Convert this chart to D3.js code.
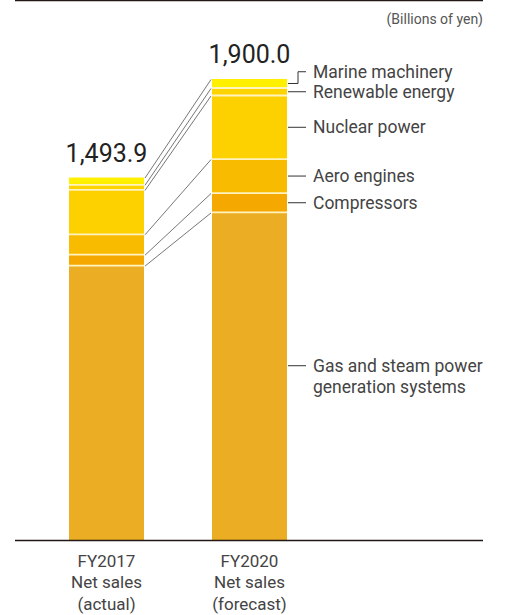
<!DOCTYPE html>
<html>
<head>
<meta charset="utf-8">
<script src="https://cdn.jsdelivr.net/npm/d3@7"></script>
<style>
  body { margin: 0; background: #fff; }
  svg { display: block; font-family: Roboto, "DejaVu Sans", sans-serif; }
</style>
</head>
<body>
<script>
// data (billions of yen), bottom segment first
const segments = ["Gas and steam power generation systems", "Compressors", "Aero engines",
                  "Nuclear power", "Renewable energy", "Marine machinery"];
const segmentLabels = [["Gas and steam power", "generation systems"], ["Compressors"], ["Aero engines"],
                       ["Nuclear power"], ["Renewable energy"], ["Marine machinery"]];
const fy2017 = [1130.9, 45, 84, 183, 21, 30];
const fy2020 = [1350, 80, 140, 262, 31, 37];
const totals = ["1,493.9", "1,900.0"];
const categories = [["FY2017", "Net sales", "(actual)"], ["FY2020", "Net sales", "(forecast)"]];
const colors = ["#ebad24", "#f5a800", "#f8bb00", "#fdd000", "#fdd300", "#fff000"];

const width = 519, height = 615;
const base = 540;

const svg = d3.select("body").append("svg")
    .attr("width", width)
    .attr("height", height);

// bar width ~75, bars at 69 and 212
const barW = 75;
const barX = i => [69, 212][i];

const y = d3.scaleLinear()
    .domain([0, 1900])
    .range([base, 79]);

const series = [fy2017, fy2020];
const stacks = series.map(vals => {
    let acc = 0;
    return vals.map((v, j) => {
        const s = { j, y0: acc, y1: acc + v };
        acc += v;
        return s;
    });
});

// top rule + unit note
svg.append("line").attr("x1", 15).attr("x2", 483).attr("y1", 0.5).attr("y2", 0.5)
    .attr("stroke", "#231815").attr("stroke-width", 1.5);

svg.append("text")
    .attr("x", 483).attr("y", 23.5)
    .attr("text-anchor", "end")
    .attr("font-size", 14)
    .attr("fill", "#555")
    .text("(Billions of yen)");

// connector lines between tops of matching segments
const conn = svg.append("g").attr("stroke", "#666").attr("stroke-width", 0.9);
segments.forEach((s, j) => {
    conn.append("line")
        .attr("x1", barX(0) + barW + 1).attr("y1", y(stacks[0][j].y1) + 0.5)
        .attr("x2", barX(1) - 1).attr("y2", y(stacks[1][j].y1) + 0.5);
});

// bars
stacks.forEach((st, i) => {
    const g = svg.append("g");
    g.selectAll("rect")
        .data(st)
        .join("rect")
        .attr("x", barX(i))
        .attr("width", barW)
        .attr("y", d => y(d.y1))
        .attr("height", d => y(d.y0) - y(d.y1))
        .attr("fill", d => colors[d.j]);
    // light separators
    g.selectAll("line")
        .data(st.slice(1))
        .join("line")
        .attr("x1", barX(i)).attr("x2", barX(i) + barW)
        .attr("y1", d => y(d.y0)).attr("y2", d => y(d.y0))
        .attr("stroke", "#fff3c0")
        .attr("stroke-width", 1.8);

    svg.append("text")
        .attr("x", barX(i) + barW / 2)
        .attr("y", y(st[st.length - 1].y1) - 16)
        .attr("text-anchor", "middle")
        .attr("font-size", 25)
        .attr("fill", "#222")
        .text(totals[i]);

    const t = svg.append("text")
        .attr("text-anchor", "middle")
        .attr("font-size", 17)
        .attr("fill", "#444");
    categories[i].forEach((line, k) => {
        t.append("tspan")
            .attr("x", barX(i) + barW / 2)
            .attr("y", 566.5 + k * 21.5)
            .text(line);
    });
});

// baseline
svg.append("line").attr("x1", 15).attr("x2", 483).attr("y1", base + 0.5).attr("y2", base + 0.5)
    .attr("stroke", "#231815").attr("stroke-width", 1.3);

// labels for the right bar, pushed apart from the bottom up
const lineH = 21;
const pos = stacks[1].map(d => {
    const n = segmentLabels[d.j].length;
    const mid = (y(d.y0) + y(d.y1)) / 2;
    return { j: d.j, mid, ly: mid - (n - 1) * lineH / 2 };
});
for (let k = 1; k < pos.length; k++) {
    pos[k].ly = Math.min(pos[k].ly, pos[k - 1].ly - 20);
}

const lab = svg.append("g");
const x0 = barX(1) + barW;
pos.forEach(p => {
    const path = d3.path();
    if (Math.abs(p.ly - p.mid) < 1 || segmentLabels[p.j].length > 1) {
        path.moveTo(x0 + 1, p.ly);
        path.lineTo(x0 + 19, p.ly);
    } else {
        path.moveTo(x0 + 1, p.mid);
        path.lineTo(x0 + 11, p.mid);
        path.lineTo(x0 + 11, p.ly);
        path.lineTo(x0 + 19, p.ly);
    }
    lab.append("path")
        .attr("d", path.toString())
        .attr("fill", "none")
        .attr("stroke", "#333")
        .attr("stroke-width", 1);
    const t = lab.append("text")
        .attr("font-size", 17.5)
        .attr("fill", "#444");
    segmentLabels[p.j].forEach((line, k) => {
        t.append("tspan")
            .attr("x", x0 + 26)
            .attr("y", p.ly + k * lineH)
            .attr("dy", "0.35em")
            .text(line);
    });
});
</script>
</body>
</html>
